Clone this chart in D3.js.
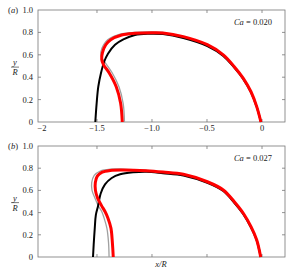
<!DOCTYPE html>
<html>
<head>
<meta charset="utf-8">
<script src="https://cdn.jsdelivr.net/npm/d3@7/dist/d3.min.js"></script>
<style>
  body { margin: 0; background: #fff; }
</style>
</head>
<body>
<div id="chart"></div>
<script>
// tick values shared by both panels
const xTicks = [-2, -1.5, -1, -0.5, 0];
const xTickLabels = ["\u22122", "\u22121.5", "\u22121.0", "\u22120.5", "0"];
const yTicks = [0, 0.2, 0.4, 0.6, 0.8, 1.0];
const yTickLabels = ["0", "0.2", "0.4", "0.6", "0.8", "1.0"];

// panel (a), Ca = 0.020, [x/R, y/R]
const blackA = [[-1.515, 0], [-1.503, 0.167], [-1.488, 0.315], [-1.464, 0.435], [-1.434, 0.54],
  [-1.40, 0.61], [-1.336, 0.69], [-1.26, 0.738], [-1.155, 0.777], [-1.03, 0.788], [-0.9, 0.785],
  [-0.715, 0.75], [-0.497, 0.678], [-0.352, 0.59], [-0.252, 0.485], [-0.17, 0.383],
  [-0.1, 0.265], [-0.048, 0.135], [-0.01, 0]];
const redA = [[-1.27, 0], [-1.285, 0.167], [-1.325, 0.315], [-1.39, 0.44], [-1.44, 0.51],
  [-1.457, 0.56], [-1.45, 0.62], [-1.42, 0.69], [-1.375, 0.735], [-1.275, 0.777], [-1.155, 0.792],
  [-1.0, 0.797], [-0.9, 0.795], [-0.715, 0.762], [-0.497, 0.69], [-0.352, 0.60], [-0.252, 0.494],
  [-0.17, 0.39], [-0.1, 0.27], [-0.048, 0.137], [-0.01, 0]];
const greyA = [[-1.25, 0], [-1.262, 0.167], [-1.30, 0.315], [-1.362, 0.44], [-1.425, 0.53],
  [-1.46, 0.58], [-1.465, 0.625], [-1.44, 0.69], [-1.40, 0.737], [-1.29, 0.785], [-1.16, 0.80],
  [-1.0, 0.805], [-0.9, 0.80]];

// panel (b), Ca = 0.027
const blackB = [[-1.536, 0], [-1.53, 0.11], [-1.52, 0.26], [-1.51, 0.38], [-1.49, 0.46],
  [-1.467, 0.57], [-1.427, 0.654], [-1.366, 0.712], [-1.29, 0.745], [-1.17, 0.763], [-1.05, 0.768],
  [-0.9, 0.755], [-0.715, 0.735], [-0.497, 0.668], [-0.352, 0.594], [-0.252, 0.488],
  [-0.17, 0.385], [-0.1, 0.265], [-0.048, 0.15], [-0.012, 0]];
const redB = [[-1.352, 0], [-1.36, 0.13], [-1.373, 0.26], [-1.40, 0.35], [-1.427, 0.41],
  [-1.46, 0.465], [-1.494, 0.53], [-1.514, 0.6], [-1.515, 0.67], [-1.497, 0.728], [-1.457, 0.762],
  [-1.38, 0.78], [-1.26, 0.784], [-1.05, 0.777], [-0.9, 0.765], [-0.715, 0.745], [-0.497, 0.678],
  [-0.352, 0.604], [-0.252, 0.498], [-0.17, 0.394], [-0.1, 0.273], [-0.048, 0.153], [-0.012, 0]];
const greyB = [[-1.39, 0], [-1.395, 0.13], [-1.41, 0.26], [-1.435, 0.35], [-1.457, 0.41],
  [-1.49, 0.465], [-1.518, 0.53], [-1.545, 0.6], [-1.548, 0.67], [-1.525, 0.735],
  [-1.47, 0.775], [-1.38, 0.792], [-1.26, 0.792], [-1.05, 0.782]];

const W = 297, H = 273;
const left = 38, right = 285;
const FONT = "'Liberation Serif', 'DejaVu Serif', 'Times New Roman', serif";

const svg = d3.select("#chart").append("svg")
  .attr("width", W).attr("height", H)
  .style("display", "block");

const x = d3.scaleLinear().domain([-2.036, 0.209]).range([left, right]);

function label(g, tx, ty, anchor) {
  return g.append("text")
    .attr("x", tx).attr("y", ty)
    .attr("text-anchor", anchor)
    .attr("font-family", FONT)
    .attr("font-size", "8.5px")
    .attr("fill", "#222");
}

function panel(top, bottom, tag, caText, curves, showXLabels) {
  const y = d3.scaleLinear().domain([0, 1]).range([bottom, top]);
  const g = svg.append("g");

  // frame
  g.append("rect")
    .attr("x", left).attr("y", top)
    .attr("width", right - left).attr("height", bottom - top)
    .attr("fill", "none").attr("stroke", "#777").attr("stroke-width", 0.8);

  // inward ticks on all four sides
  const yt = yTicks.filter(d => d > 0 && d < 1);
  g.selectAll(".ytl").data(yt).enter().append("line")
    .attr("x1", left).attr("x2", left + 3)
    .attr("y1", d => y(d)).attr("y2", d => y(d))
    .attr("stroke", "#777").attr("stroke-width", 0.8);
  g.selectAll(".ytr").data(yt).enter().append("line")
    .attr("x1", right).attr("x2", right - 3)
    .attr("y1", d => y(d)).attr("y2", d => y(d))
    .attr("stroke", "#777").attr("stroke-width", 0.8);
  const xt = xTicks.filter(d => d > -2);
  g.selectAll(".xtb").data(xt).enter().append("line")
    .attr("x1", d => x(d)).attr("x2", d => x(d))
    .attr("y1", bottom).attr("y2", bottom - 3)
    .attr("stroke", "#777").attr("stroke-width", 0.8);
  g.selectAll(".xtt").data(xt).enter().append("line")
    .attr("x1", d => x(d)).attr("x2", d => x(d))
    .attr("y1", top).attr("y2", top + 3)
    .attr("stroke", "#777").attr("stroke-width", 0.8);

  // y tick labels
  yTicks.forEach((d, i) => label(g, left - 5, y(d) + 3, "end").text(yTickLabels[i]));

  if (showXLabels) {
    xTicks.forEach((d, i) => label(g, x(d), bottom + 9, "middle").text(xTickLabels[i]));
  }

  // panel tag
  label(g, 13, y(1) + 3, "middle")
    .html("(<tspan font-style='italic'>" + tag + "</tspan>)");

  // y/R label
  const ym = y(0.49);
  label(g, 15, ym - 2, "middle").attr("font-style", "italic").text("y");
  g.append("line").attr("x1", 11).attr("x2", 19).attr("y1", ym).attr("y2", ym)
    .attr("stroke", "#222").attr("stroke-width", 0.6);
  label(g, 15, ym + 8, "middle").attr("font-style", "italic").text("R");

  // Ca label
  label(g, 253, top + 15, "middle")
    .html("<tspan font-style='italic'>Ca</tspan> = " + caText);

  const line = d3.line()
    .x(d => x(d[0])).y(d => y(d[1]))
    .curve(d3.curveCatmullRom.alpha(0.5));

  g.append("path").datum(curves.grey).attr("d", line)
    .attr("fill", "none").attr("stroke", "#a0a0a0").attr("stroke-width", 1.3);
  g.append("path").datum(curves.black).attr("d", line)
    .attr("fill", "none").attr("stroke", "#000").attr("stroke-width", 2);
  g.append("path").datum(curves.red).attr("d", line)
    .attr("fill", "none").attr("stroke", "#f00").attr("stroke-width", 3);
}

panel(10, 122, "a", "0.020", { black: blackA, red: redA, grey: greyA }, true);
panel(146, 257, "b", "0.027", { black: blackB, red: redB, grey: greyB }, false);

// x/R label below panel b
label(svg, 161, 267, "middle").attr("font-style", "italic").text("x/R");
</script>
</body>
</html>
